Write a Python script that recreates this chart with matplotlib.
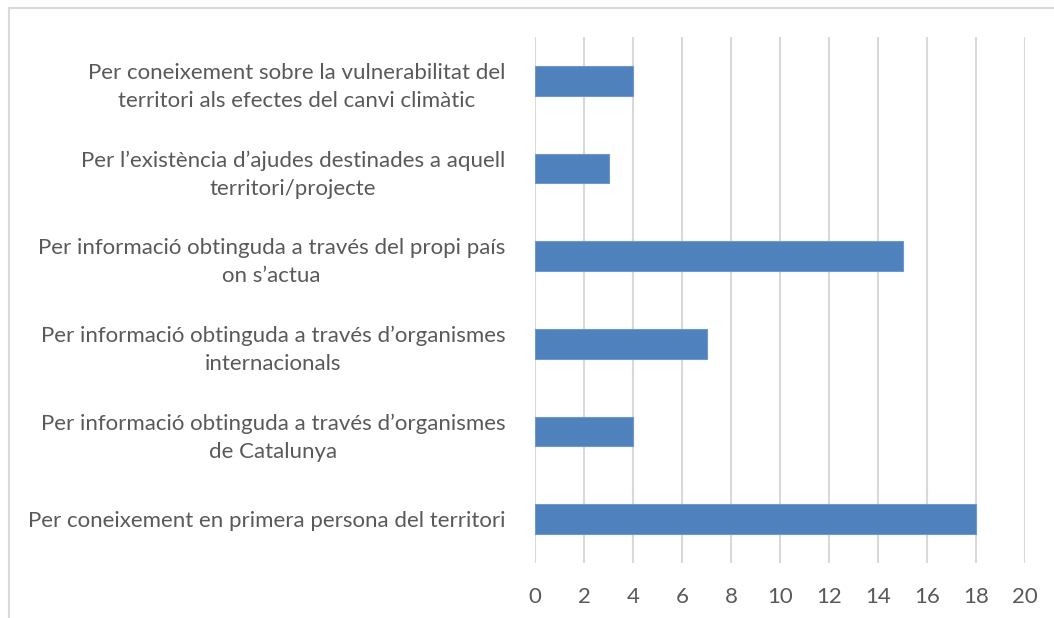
import matplotlib.pyplot as plt
from matplotlib.patches import Rectangle
import numpy as np

# categories listed bottom -> top, as drawn
labels = [
    "Per coneixement en primera persona del territori",
    "Per informació obtinguda a través d’organismes\nde Catalunya",
    "Per informació obtinguda a través d’organismes\ninternacionals",
    "Per informació obtinguda a través del propi país\non s’actua",
    "Per l’existència d’ajudes destinades a aquell\nterritori/projecte",
    "Per coneixement sobre la vulnerabilitat del\nterritori als efectes del canvi climàtic",
]
values = [18, 4, 7, 15, 3, 4]
xticks = [0, 2, 4, 6, 8, 10, 12, 14, 16, 18, 20]

W, H = 1054, 618
fig = plt.figure(figsize=(W / 100, H / 100), dpi=100)
ax = fig.add_axes([535 / W, 1 - 563 / H, (1025 - 535) / W, (563 - 37) / H])

txt = '#595959'
font = 'Lato'

y = np.arange(len(values))
ax.barh(y, values, height=0.34, color='#4F81BD', edgecolor='#6f97cc', lw=0.8, zorder=3)

ax.set_xlim(0, 20)
ax.set_ylim(-0.5, len(values) - 0.5)
ax.set_xticks(xticks)
ax.set_xticklabels([str(t) for t in xticks], fontsize=16, color=txt, family=font)
ax.set_yticks(y)
ax.set_yticklabels(labels, fontsize=16, color=txt, family=font,
                   multialignment='center', linespacing=1.5)
ax.tick_params(axis='both', length=0)
ax.tick_params(axis='y', pad=21.5)
ax.tick_params(axis='x', pad=17)
ax.grid(axis='x', color='#D9D9D9', lw=1.5, zorder=0)
for s in ax.spines.values():
    s.set_visible(False)

# outer chart frame, cut off at right and bottom
fig.add_artist(Rectangle((8.5 / W, -0.1), 1.2, 1.1 - 7.5 / H, transform=fig.transFigure,
                         fill=False, ec='#D9D9D9', lw=1.5, clip_on=False))

fig.savefig('out.png', dpi=100)
